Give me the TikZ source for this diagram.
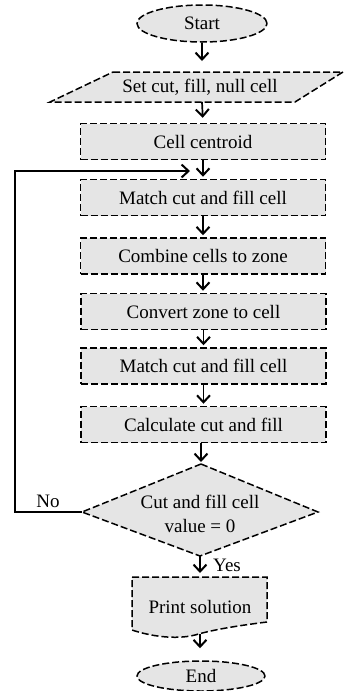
\documentclass[tikz,border=0pt]{standalone}
\usepackage{fontspec}
\setmainfont{Liberation Serif}
\usetikzlibrary{arrows.meta,shapes.geometric}
\tikzset{
  dsh/.style={line width=1.5pt, dash pattern=on 7pt off 3pt, fill=black!10},
  box/.style={dsh, draw, rectangle, minimum width=245pt, minimum height=36pt, inner sep=0pt},
  term/.style={dsh, draw, ellipse, inner sep=0pt},
  txt/.style={inner sep=0pt, align=center},
  tip/.style={-{Straight Barb[length=7pt,width=13pt,line width=2pt]}},
  arr/.style={line width=1.7pt, tip},
  lin/.style={line width=1.7pt}
}
\begin{document}
\begin{tikzpicture}[x=1pt,y=-1pt,font=\fontsize{19}{24}\selectfont]
\useasboundingbox (0,0) rectangle (344,691);
% start
\node[term, minimum width=130pt, minimum height=37pt] (start) at (202,23.5) {Start};
% parallelogram
\coordinate (pTL) at (113,72);
\coordinate (pTR) at (343,72);
\coordinate (pBR) at (295,102);
\coordinate (pBL) at (50,102);
\draw[dsh] (pTL) -- (pTR) -- (pBR) -- (pBL) -- cycle;
\node[txt] (set) at (200,87) {Set cut, fill, null cell};
\coordinate (setT) at (202,72);
\coordinate (setB) at (202,102);
% boxes
\node[box] (cc) at (203,141.5) {Cell centroid};
\node[box] (m1) at (203,197.5) {Match cut and fill cell};
\node[box] (cz) at (203,256) {Combine cells to zone};
\node[box] (zc) at (203.5,311.5) {Convert zone to cell};
\node[box] (m2) at (203.5,366) {Match cut and fill cell};
\node[box] (cf) at (203.5,424.5) {Calculate cut and fill};
% diamond
\coordinate (dT) at (201,464);
\coordinate (dL) at (82,512);
\coordinate (dR) at (318,512);
\coordinate (dB) at (200,556);
\draw[dsh] (dT) -- (dR) -- (dB) -- (dL) -- cycle;
\node[txt] (dec) at (200,514) {Cut and fill cell\\value = 0};
% document
\coordinate (docT) at (200,577);
\coordinate (docB) at (200,634);
\draw[dsh] (132,577) -- (267,577) -- (267,622)
  .. controls (235,626) and (212,630) .. (195,635)
  .. controls (175,640) and (150,636) .. (132,630) -- cycle;
\node[txt] (print) at (200,607) {Print solution};
% end
\node[term, minimum width=128pt, minimum height=30pt] (end) at (201,676) {End};
% connectors
\draw[arr, shorten >=11pt] (start.south) -- (setT);
\draw[arr, shorten >=5pt] (setB) -- (cc.north);
\draw[arr, shorten >=2pt] (cc.south) -- (m1.north);
\draw[arr, shorten >=2pt] (m1.south) -- (m1.south |- cz.north);
\draw[arr, shorten >=2pt] (cz.south) -- (cz.south |- zc.north);
\draw[arr, shorten >=2pt] (zc.south) -- (m2.north);
\draw[arr, shorten >=2pt] (m2.south) -- (cf.north);
\draw[arr, shorten >=2pt] (cf.south -| dT) -- (dT);
\draw[arr, shorten >=4pt] (dB) -- (docT);
\draw[arr, shorten >=12pt] (docB) -- (end.north -| docB);
\coordinate (loopT) at (190,171);
\draw[lin, tip] (dL) -- (15,512) -- (15,171) -- (loopT);
\node[txt, anchor=base] (no) at (48,507) {No};
\node[txt, anchor=base west] (yes) at (213,571) {Yes};
\end{tikzpicture}
\end{document}
